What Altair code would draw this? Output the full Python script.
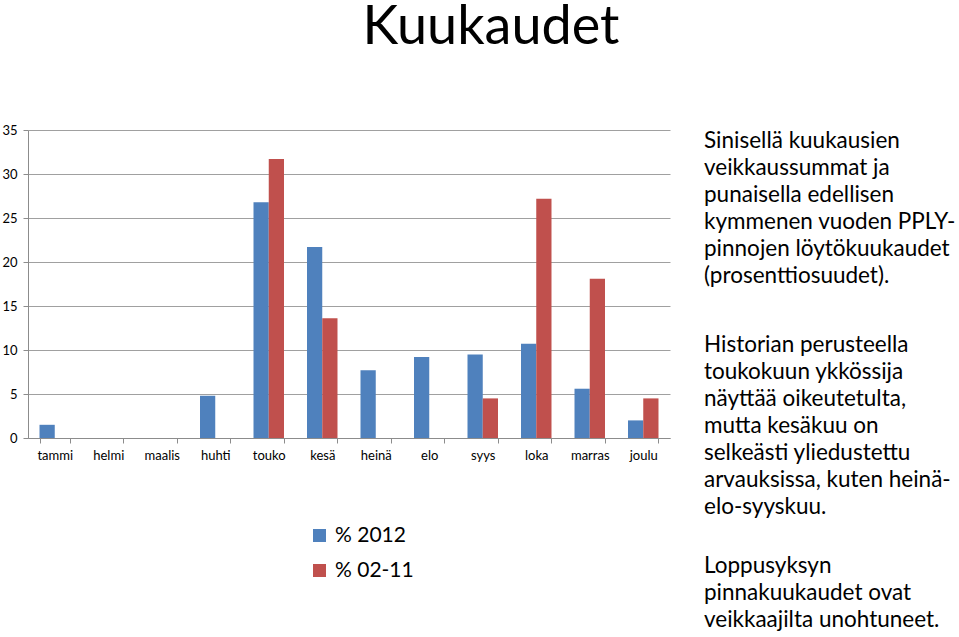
import altair as alt
import pandas as pd

months = ["tammi", "helmi", "maalis", "huhti", "touko", "kesä", "heinä",
          "elo", "syys", "loka", "marras", "joulu"]
pct_2012 = [1.5, 0, 0, 4.8, 26.8, 21.7, 7.7, 9.2, 9.5, 10.7, 5.6, 2.0]
pct_0211 = [0, 0, 0, 0, 31.7, 13.6, 0, 0, 4.5, 27.2, 18.1, 4.5]
series_names = ["% 2012", "% 02-11"]
series_colors = ["#4F81BD", "#C0504D"]
y_ticks = [0, 5, 10, 15, 20, 25, 30, 35]

title_text = "Kuukaudet"
para1 = ["Sinisellä kuukausien", "veikkaussummat ja", "punaisella edellisen",
         "kymmenen vuoden PPLY-", "pinnojen löytökuukaudet", "(prosenttiosuudet)."]
para2 = ["Historian perusteella", "toukokuun ykkössija", "näyttää oikeutetulta,",
         "mutta kesäkuu on", "selkeästi yliedustettu", "arvauksissa, kuten heinä-",
         "elo-syyskuu."]
para3 = ["Loppusyksyn", "pinnakuukaudet ovat", "veikkaajilta unohtuneet."]

rows = []
for m, a, b in zip(months, pct_2012, pct_0211):
    rows.append({"kk": m, "sarja": series_names[0], "arvo": a})
    rows.append({"kk": m, "sarja": series_names[1], "arvo": b})
df = pd.DataFrame(rows)

W, H = 642, 308
FONT = "Lato"
GREY = "#8c8c8c"

bars = alt.Chart(df).mark_bar().encode(
    x=alt.X("kk:N", sort=months,
            scale=alt.Scale(domain=months, paddingInner=0.43, paddingOuter=0.215),
            axis=alt.Axis(title=None, labelAngle=0, tickBand="extent", ticks=True,
                          tickSize=5, tickColor=GREY, domainColor=GREY, grid=False,
                          labelFontSize=13, labelFont=FONT, labelColor="#000",
                          labelPadding=6)),
    xOffset=alt.XOffset("sarja:N", sort=series_names,
                        scale=alt.Scale(domain=series_names, paddingInner=0, paddingOuter=0)),
    y=alt.Y("arvo:Q", scale=alt.Scale(domain=[0, 35], nice=False),
            axis=alt.Axis(values=y_ticks, title=None, grid=True, gridColor="#a0a0a0",
                          domainColor=GREY, tickColor=GREY, tickSize=5, labelPadding=6,
                          labelFontSize=13, labelFont=FONT, labelColor="#000")),
    color=alt.Color("sarja:N", sort=series_names,
                    scale=alt.Scale(domain=series_names, range=series_colors),
                    legend=alt.Legend(title=None, orient="none", legendX=281, legendY=395,
                                      symbolType="square", symbolSize=169,
                                      symbolStrokeWidth=0, padding=0,
                                      labelFontSize=21, labelFont=FONT, labelColor="#000",
                                      labelOffset=5, rowPadding=13)),
)

text_base = alt.Chart(pd.DataFrame({"k": [0]}))

title = text_base.mark_text(text=title_text, font=FONT, fontSize=54, align="center",
                            baseline="alphabetic", color="#000").encode(
    x=alt.value(463), y=alt.value(-86))

def para(lines, y0):
    return text_base.mark_text(text=lines, font=FONT, fontSize=22.5, align="left",
                               baseline="alphabetic", lineHeight=27, color="#000").encode(
        x=alt.value(676), y=alt.value(y0))

p1 = para(para1, 148 - 130)
p2 = para(para2, 352 - 130)
p3 = para(para3, 573 - 130)

chart = alt.layer(bars, title, p1, p2, p3).properties(
    width=W, height=H, autosize="none",
    padding={"left": 28, "top": 130, "right": 289, "bottom": 199},
    background="white",
).configure_view(stroke=None)

chart.save("out.html", embed_options={"renderer": "svg", "actions": False})
